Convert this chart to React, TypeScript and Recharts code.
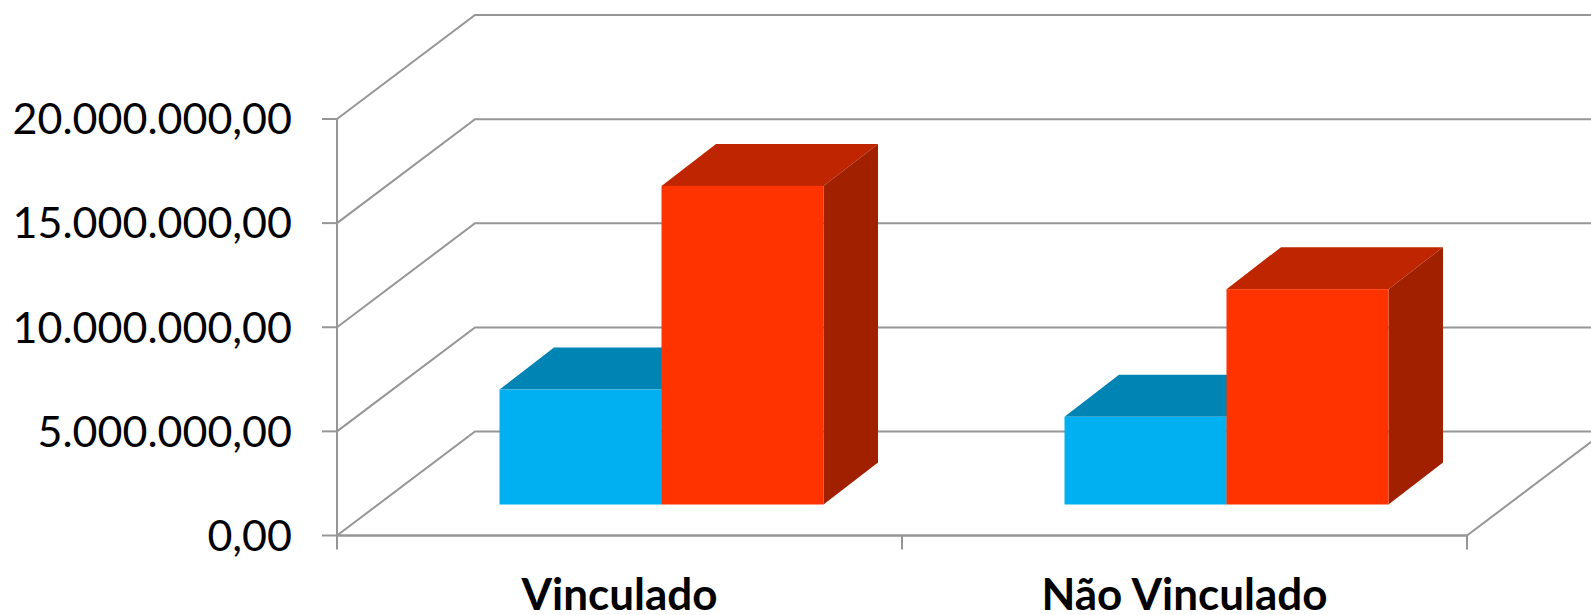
import { Bar, BarChart, CartesianGrid, XAxis, YAxis } from "recharts";

const categories = ["Vinculado", "Não Vinculado"];
const blueValues = [5520000, 4210000];
const redValues = [15300000, 10340000];
const yTicks = [0, 5000000, 10000000, 15000000, 20000000];

const chartData = categories.map((name, i) => ({
  name,
  blue: blueValues[i],
  red: redValues[i],
}));

const FONT = "Lato, sans-serif";
const GRID = "#969696";
const GRID_WIDTH = 2;

// 3D look: wall depth, and how far the bars sit inside it
const WALL_DX = 138;
const WALL_DY = -104;
const BAR_DX = 41.5;
const BAR_DY = -31;
const SIDE_DX = 54.5;
const SIDE_DY = -42;

const formatTick = (v: number) =>
  v.toLocaleString("pt-BR", { minimumFractionDigits: 2, maximumFractionDigits: 2 });

function Bar3D(props: any) {
  const { x, y, width, height, front, top, side } = props;
  const l = x + BAR_DX;
  const r = l + width;
  const t = y + BAR_DY;
  const b = t + height;
  return (
    <g>
      <polygon
        points={`${l},${t} ${l + SIDE_DX},${t + SIDE_DY} ${r + SIDE_DX},${t + SIDE_DY} ${r},${t}`}
        fill={top}
      />
      <polygon
        points={`${r},${t} ${r + SIDE_DX},${t + SIDE_DY} ${r + SIDE_DX},${b + SIDE_DY} ${r},${b}`}
        fill={side}
      />
      <rect x={l} y={t} width={width} height={height} fill={front} />
    </g>
  );
}

function WallLine(props: any) {
  const { x1, y1, x2, y2 } = props;
  return (
    <g fill="none" stroke={GRID} strokeWidth={GRID_WIDTH}>
      <polyline
        points={`${x1},${y1} ${x1 + WALL_DX},${y1 + WALL_DY} ${x2 + WALL_DX},${y2 + WALL_DY}`}
      />
      {/* floor edge on the right */}
      {y1 > 500 && <polyline points={`${x1},${y1} ${x2},${y2} ${x2 + WALL_DX},${y2 + WALL_DY}`} />}
    </g>
  );
}

function CategoryTick(props: any) {
  const { x, y, payload, index } = props;
  const half = payload.offset ?? 282.5;
  return (
    <g>
      <line x1={x - half} y1={y - 8} x2={x - half} y2={y + 6} stroke={GRID} strokeWidth={GRID_WIDTH} />
      {index === categories.length - 1 && (
        <line x1={x + half} y1={y - 8} x2={x + half} y2={y + 6} stroke={GRID} strokeWidth={GRID_WIDTH} />
      )}
      <text x={x} y={610} textAnchor="middle" fontFamily={FONT} fontWeight={700} fontSize={44} fill="#000">
        {payload.value}
      </text>
    </g>
  );
}

export default function App() {
  return (
    <div style={{ position: "absolute", left: 0, top: 0, width: 1591, height: 615, background: "#fff" }}>
      <BarChart
        width={1591}
        height={615}
        data={chartData}
        margin={{ top: 119, right: 124, bottom: 0, left: 0 }}
        barGap={0}
        barSize={162}
      >
        <CartesianGrid vertical={false} horizontal={<WallLine />} syncWithTicks />
        <XAxis
          dataKey="name"
          height={79.5}
          axisLine={{ stroke: GRID, strokeWidth: GRID_WIDTH }}
          tickLine={false}
          interval={0}
          tick={<CategoryTick />}
        />
        <YAxis
          width={337}
          domain={[0, 20000000]}
          ticks={yTicks}
          interval={0}
          tickFormatter={formatTick}
          axisLine={{ stroke: GRID, strokeWidth: GRID_WIDTH }}
          tickLine={{ stroke: GRID, strokeWidth: GRID_WIDTH }}
          tickSize={15}
          tickMargin={30}
          tick={{ fontFamily: FONT, fontSize: 43, fill: "#000" }}
        />
        <Bar
          dataKey="blue"
          isAnimationActive={false}
          shape={<Bar3D front="#00B0F0" top="#0084B4" side="#006F98" />}
        />
        <Bar
          dataKey="red"
          isAnimationActive={false}
          shape={<Bar3D front="#FF3300" top="#BF2600" side="#A02000" />}
        />
      </BarChart>
    </div>
  );
}
